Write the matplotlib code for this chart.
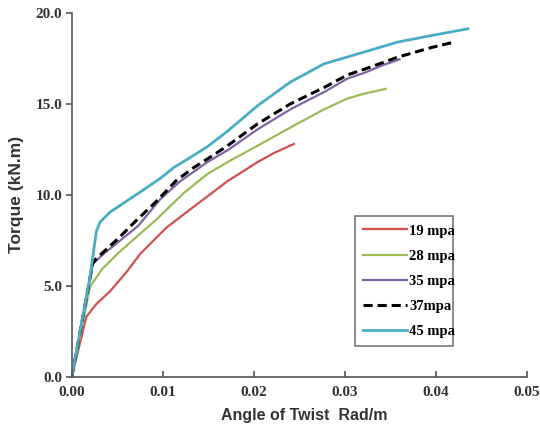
import numpy as np
import matplotlib.pyplot as plt
from matplotlib.ticker import FormatStrFormatter

# angle of twist (rad/m) and torque (kN.m)
x19 = [0, 0.0016, 0.0027, 0.0042, 0.006, 0.0075, 0.0104, 0.0134, 0.0171, 0.0204,
       0.0222, 0.0244]
t19 = [0, 3.3, 4.0, 4.7, 5.75, 6.75, 8.2, 9.35, 10.75, 11.8, 12.3, 12.8]

x28 = [0, 0.002, 0.0033, 0.0051, 0.0069, 0.0092, 0.0123, 0.0149, 0.0171, 0.0204,
       0.024, 0.0277, 0.0303, 0.0321, 0.0345]
t28 = [0, 4.95, 5.9, 6.8, 7.6, 8.6, 10.1, 11.15, 11.8, 12.7, 13.7, 14.7, 15.3,
       15.56, 15.83]

x35 = [0, 0.0023, 0.0036, 0.0051, 0.0073, 0.0097, 0.0119, 0.0149, 0.0171, 0.0204,
       0.024, 0.0277, 0.0303, 0.0321, 0.034, 0.036]
t35 = [0, 6.2, 6.8, 7.4, 8.3, 9.75, 10.75, 11.8, 12.45, 13.6, 14.7, 15.65, 16.4,
       16.7, 17.1, 17.45]

x37 = [0, 0.0023, 0.0027, 0.0051, 0.0069, 0.0092, 0.0115, 0.0134, 0.0156, 0.0171,
       0.0204, 0.024, 0.0277, 0.0303, 0.0321, 0.0358, 0.0395, 0.042]
t37 = [0, 6.25, 6.5, 7.6, 8.5, 9.6, 10.8, 11.5, 12.2, 12.7, 13.9, 15.0, 15.9,
       16.6, 16.9, 17.57, 18.1, 18.4]

x45 = [0, 0.002, 0.0027, 0.0031, 0.0042, 0.006, 0.0075, 0.0097, 0.0112, 0.013,
       0.0149, 0.0171, 0.0204, 0.024, 0.0277, 0.0321, 0.0358, 0.0395, 0.0435]
t45 = [0, 5.5, 8.0, 8.5, 9.05, 9.65, 10.15, 10.9, 11.5, 12.05, 12.65, 13.5, 14.9,
       16.2, 17.2, 17.85, 18.4, 18.76, 19.13]

labels = ['19 mpa', '28 mpa', '35 mpa', '37mpa', '45 mpa']

fig = plt.figure(figsize=(5.4, 4.32), dpi=100)
ax = fig.add_axes([0.133, 0.128, 0.843, 0.842])

ax.plot(x19, t19, color='#D0504D', lw=1.6, label=labels[0])
ax.plot(x28, t28, color='#9BBB59', lw=1.6, label=labels[1])
ax.plot(x35, t35, color='#8064A2', lw=1.6, label=labels[2])
ax.plot(x37, t37, color='black', lw=2.2, ls=(0, (3, 1.6)), label=labels[3])
ax.plot(x45, t45, color='#4BACC6', lw=2.0, label=labels[4])

ax.set_xlim(0, 0.05)
ax.set_ylim(0, 20)
ax.set_xticks(np.arange(0, 0.051, 0.01))
ax.set_yticks(np.arange(0, 20.1, 5))
ax.xaxis.set_major_formatter(FormatStrFormatter('%.2f'))
ax.yaxis.set_major_formatter(FormatStrFormatter('%.1f'))

for s in ['top', 'right']:
    ax.spines[s].set_visible(False)
for s in ['left', 'bottom']:
    ax.spines[s].set_color('#555555')
    ax.spines[s].set_linewidth(1.2)

ax.tick_params(axis='y', direction='out', length=4, color='#555555', width=1.2, pad=3)
ax.tick_params(axis='x', direction='in', length=4, color='#555555', width=1.2, pad=7)
for lab in ax.get_xticklabels() + ax.get_yticklabels():
    lab.set_family('Liberation Serif')
    lab.set_fontweight('bold')
    lab.set_fontsize(11)
    lab.set_color('#333333')

ax.set_xlabel('Angle of Twist  Rad/m', family='Liberation Sans', fontweight='bold',
              fontsize=11.5, color='#333333', labelpad=6)
ax.xaxis.set_label_coords(0.51, -0.085)
ax.set_ylabel('Torque (kN.m)', family='Liberation Sans', fontweight='bold',
              fontsize=12.5, color='#333333', labelpad=8)

leg = ax.legend(loc='upper left', bbox_to_anchor=(0.607, 0.087, 0.246, 0.374),
                mode='expand', prop={'family': 'Liberation Serif', 'weight': 'bold', 'size': 10.5},
                handlelength=3.0, handletextpad=0.15, labelspacing=0.82,
                fancybox=False, frameon=True, borderpad=0.55)
leg.get_frame().set_edgecolor('#555555')
leg.get_frame().set_linewidth(1.2)

fig.savefig('out.png', dpi=100)
